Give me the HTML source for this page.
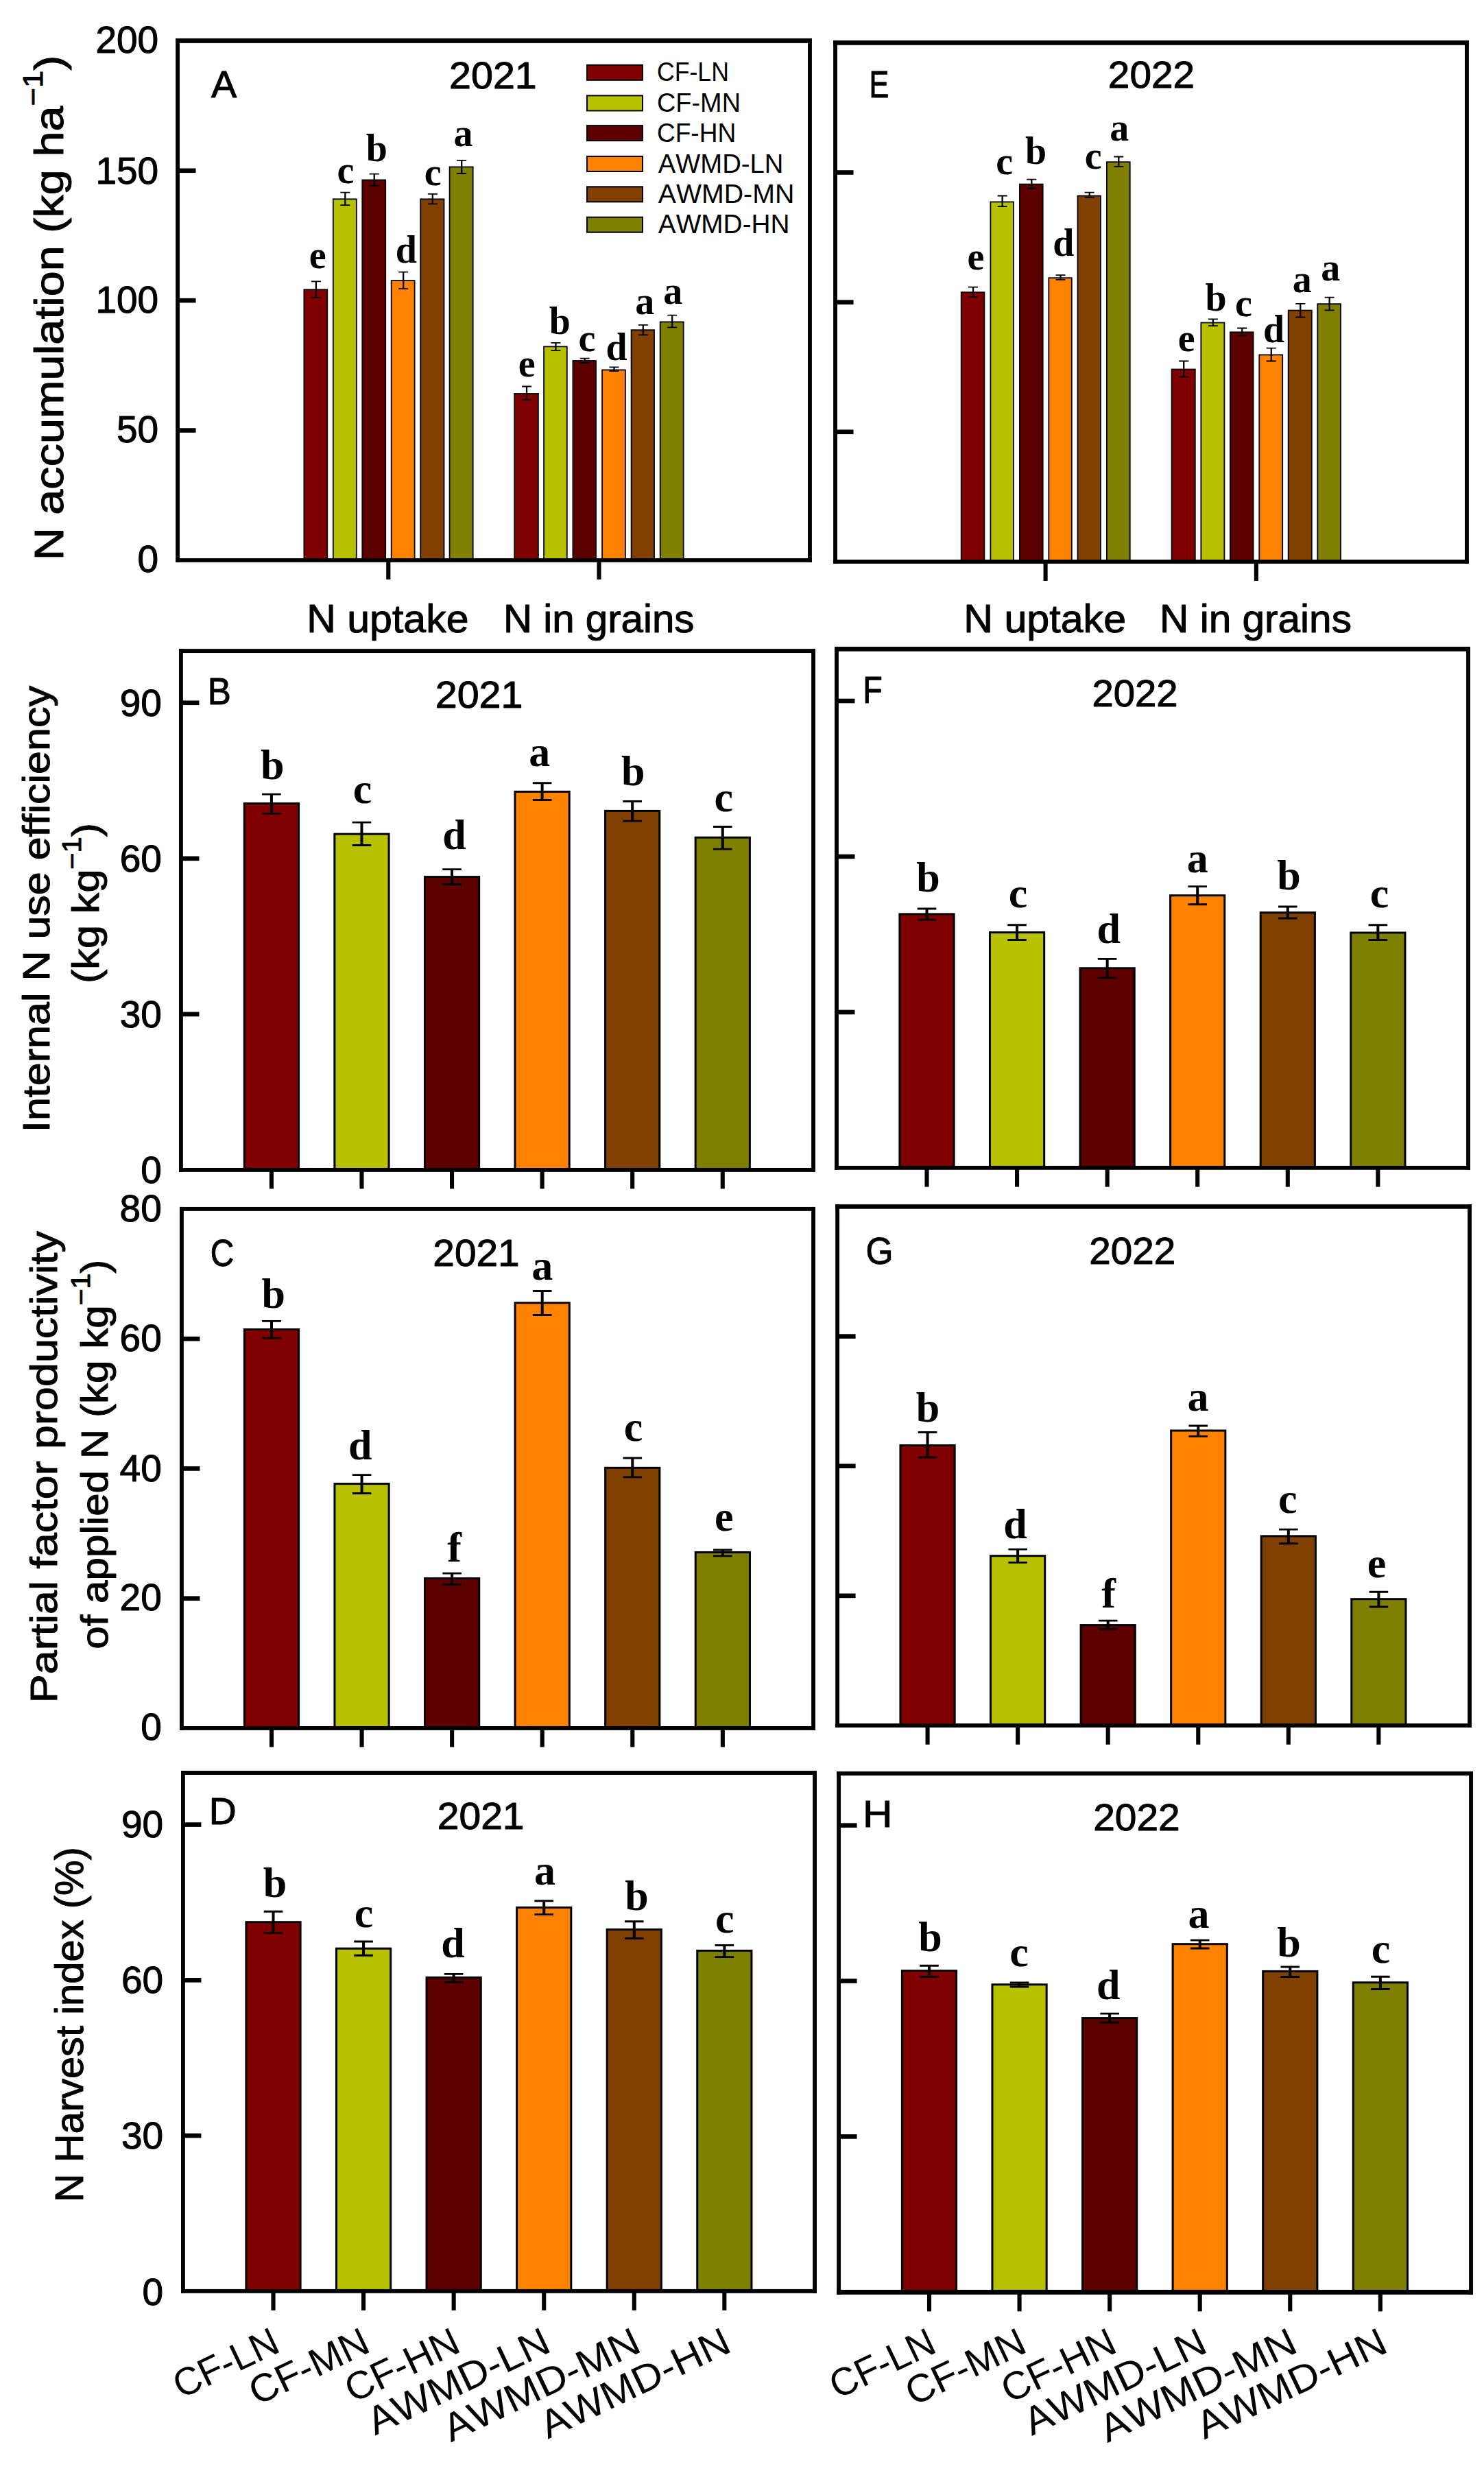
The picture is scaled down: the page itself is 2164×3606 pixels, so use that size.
<!DOCTYPE html>
<html lang="en"><head><meta charset="utf-8"><title>N accumulation and N use efficiency</title>
<style>
html,body{margin:0;padding:0;background:#fff}
body{width:2164px;height:3606px;overflow:hidden}
svg{display:block}
text{font-kerning:none;font-variant-ligatures:none;fill:#000}
.s,.t{font-family:"Liberation Sans",sans-serif}
.s{stroke:#000;stroke-width:1px;stroke-linejoin:round}
.b{font-family:"Liberation Serif",serif;font-weight:bold}
</style></head><body>
<svg width="2164" height="3606" viewBox="0 0 2164 3606" shape-rendering="geometricPrecision">
<rect width="2164" height="3606" fill="#fff"/>
<rect x="443.40" y="422.20" width="33.90" height="394.73" fill="#800000" stroke="#000" stroke-width="1.80"/>
<rect x="485.80" y="290.30" width="34.00" height="526.63" fill="#b7c100" stroke="#000" stroke-width="1.80"/>
<rect x="528.30" y="262.40" width="33.90" height="554.53" fill="#5c0000" stroke="#000" stroke-width="1.80"/>
<rect x="570.70" y="409.10" width="33.90" height="407.83" fill="#ff8200" stroke="#000" stroke-width="1.80"/>
<rect x="613.20" y="290.30" width="34.30" height="526.63" fill="#804000" stroke="#000" stroke-width="1.80"/>
<rect x="655.60" y="243.40" width="34.10" height="573.53" fill="#808000" stroke="#000" stroke-width="1.80"/>
<rect x="750.20" y="574.00" width="34.70" height="242.93" fill="#800000" stroke="#000" stroke-width="1.80"/>
<rect x="793.10" y="505.40" width="33.70" height="311.53" fill="#b7c100" stroke="#000" stroke-width="1.80"/>
<rect x="835.40" y="526.00" width="33.60" height="290.93" fill="#5c0000" stroke="#000" stroke-width="1.80"/>
<rect x="878.10" y="539.40" width="33.80" height="277.53" fill="#ff8200" stroke="#000" stroke-width="1.80"/>
<rect x="920.60" y="481.20" width="33.40" height="335.73" fill="#804000" stroke="#000" stroke-width="1.80"/>
<rect x="962.70" y="469.40" width="34.00" height="347.53" fill="#808000" stroke="#000" stroke-width="1.80"/>
<path d="M453.85 410.40H467.85M453.85 433.90H467.85" fill="none" stroke="#000" stroke-width="1.80"/>
<path d="M460.85 410.40V433.90" fill="none" stroke="#000" stroke-width="2.30"/>
<path d="M496.30 280.60H510.30M496.30 299.10H510.30" fill="none" stroke="#000" stroke-width="1.80"/>
<path d="M503.30 280.60V299.10" fill="none" stroke="#000" stroke-width="2.30"/>
<path d="M538.75 253.60H552.75M538.75 271.00H552.75" fill="none" stroke="#000" stroke-width="1.80"/>
<path d="M545.75 253.60V271.00" fill="none" stroke="#000" stroke-width="2.30"/>
<path d="M581.15 396.70H595.15M581.15 421.10H595.15" fill="none" stroke="#000" stroke-width="1.80"/>
<path d="M588.15 396.70V421.10" fill="none" stroke="#000" stroke-width="2.30"/>
<path d="M623.85 282.80H637.85M623.85 297.30H637.85" fill="none" stroke="#000" stroke-width="1.80"/>
<path d="M630.85 282.80V297.30" fill="none" stroke="#000" stroke-width="2.30"/>
<path d="M666.15 233.90H680.15M666.15 253.00H680.15" fill="none" stroke="#000" stroke-width="1.80"/>
<path d="M673.15 233.90V253.00" fill="none" stroke="#000" stroke-width="2.30"/>
<path d="M761.05 563.50H775.05M761.05 583.20H775.05" fill="none" stroke="#000" stroke-width="1.80"/>
<path d="M768.05 563.50V583.20" fill="none" stroke="#000" stroke-width="2.30"/>
<path d="M803.45 499.90H817.45M803.45 510.90H817.45" fill="none" stroke="#000" stroke-width="1.80"/>
<path d="M810.45 499.90V510.90" fill="none" stroke="#000" stroke-width="2.30"/>
<path d="M845.70 522.60H859.70M845.70 529.00H859.70" fill="none" stroke="#000" stroke-width="1.80"/>
<path d="M852.70 522.60V529.00" fill="none" stroke="#000" stroke-width="2.30"/>
<path d="M888.50 535.40H902.50M888.50 541.10H902.50" fill="none" stroke="#000" stroke-width="1.80"/>
<path d="M895.50 535.40V541.10" fill="none" stroke="#000" stroke-width="2.30"/>
<path d="M930.80 473.80H944.80M930.80 488.30H944.80" fill="none" stroke="#000" stroke-width="1.80"/>
<path d="M937.80 473.80V488.30" fill="none" stroke="#000" stroke-width="2.30"/>
<path d="M973.20 459.70H987.20M973.20 477.30H987.20" fill="none" stroke="#000" stroke-width="1.80"/>
<path d="M980.20 459.70V477.30" fill="none" stroke="#000" stroke-width="2.30"/>
<line x1="259.04" y1="627.55" x2="285.54" y2="627.55" stroke="#000" stroke-width="6.60"/>
<line x1="259.04" y1="438.16" x2="285.54" y2="438.16" stroke="#000" stroke-width="6.60"/>
<line x1="259.04" y1="248.78" x2="285.54" y2="248.78" stroke="#000" stroke-width="6.60"/>
<line x1="566.30" y1="816.93" x2="566.30" y2="844.93" stroke="#000" stroke-width="6.10"/>
<line x1="873.50" y1="816.93" x2="873.50" y2="844.93" stroke="#000" stroke-width="6.10"/>
<rect x="256.12" y="55.95" width="927.78" height="6.90" fill="#000"/>
<rect x="256.12" y="814.03" width="927.78" height="5.80" fill="#000"/>
<rect x="256.12" y="55.95" width="5.85" height="763.88" fill="#000"/>
<rect x="1178.05" y="55.95" width="5.85" height="763.88" fill="#000"/>
<text class="b" font-size="56.0" x="-12.66" y="0" transform="translate(463.40 390.50)">e</text>
<text class="b" font-size="56.0" x="-12.69" y="0" transform="translate(504.30 266.70)">c</text>
<text class="b" font-size="56.0" x="-14.79" y="0" transform="translate(548.60 234.70)">b</text>
<text class="b" font-size="56.0" x="-16.39" y="0" transform="translate(593.20 383.20)">d</text>
<text class="b" font-size="56.0" x="-12.69" y="0" transform="translate(631.50 269.70)">c</text>
<text class="b" font-size="56.0" x="-14.48" y="0" transform="translate(676.00 213.40)">a</text>
<text class="b" font-size="56.0" x="-12.66" y="0" transform="translate(768.30 549.30)">e</text>
<text class="b" font-size="56.0" x="-14.79" y="0" transform="translate(815.50 486.70)">b</text>
<text class="b" font-size="56.0" x="-12.69" y="0" transform="translate(856.10 512.20)">c</text>
<text class="b" font-size="56.0" x="-16.39" y="0" transform="translate(899.90 525.00)">d</text>
<text class="b" font-size="56.0" x="-14.48" y="0" transform="translate(940.80 458.10)">a</text>
<text class="b" font-size="56.0" x="-14.48" y="0" transform="translate(981.60 442.60)">a</text>
<text class="s" font-size="55.0" x="-89.62" y="0" transform="translate(229.00 77.23)">200</text>
<text class="s" font-size="55.0" x="-89.62" y="0" transform="translate(229.00 268.33)">150</text>
<text class="s" font-size="55.0" x="-89.62" y="0" transform="translate(229.00 456.43)">100</text>
<text class="s" font-size="55.0" x="-59.03" y="0" transform="translate(229.00 644.73)">50</text>
<text class="s" font-size="55.0" x="-28.44" y="0" transform="translate(229.00 834.43)">0</text>
<text class="s" font-size="56.0" x="-0.11" y="0" transform="translate(308.00 142.30) scale(0.9964 1)">A</text>
<text class="s" font-size="55.0" x="-2.77" y="0" transform="translate(658.00 128.60) scale(1.0436 1)">2021</text>
<text class="s" font-size="57.0" x="-4.68" y="0" transform="translate(452.00 921.50) scale(1.0365 1)">N uptake</text>
<text class="s" font-size="57.0" x="-4.68" y="0" transform="translate(738.70 921.50) scale(1.0225 1)">N in grains</text>
<rect x="856" y="94.80" width="81" height="22" fill="#800000" stroke="#000" stroke-width="2"/>
<text class="t" font-size="38.0" x="-1.93" y="0" transform="translate(959.80 117.80) scale(0.9377 1)">CF-LN</text>
<rect x="856" y="139.40" width="81" height="22" fill="#b7c100" stroke="#000" stroke-width="2"/>
<text class="t" font-size="38.0" x="-1.93" y="0" transform="translate(959.80 162.70) scale(0.9985 1)">CF-MN</text>
<rect x="856" y="183.10" width="81" height="22" fill="#5c0000" stroke="#000" stroke-width="2"/>
<text class="t" font-size="38.0" x="-1.93" y="0" transform="translate(959.80 207.10) scale(0.9756 1)">CF-HN</text>
<rect x="856" y="228.00" width="81" height="22" fill="#ff8200" stroke="#000" stroke-width="2"/>
<text class="t" font-size="38.0" x="-0.07" y="0" transform="translate(959.80 251.50) scale(1.0064 1)">AWMD-LN</text>
<rect x="856" y="272.30" width="81" height="22" fill="#804000" stroke="#000" stroke-width="2"/>
<text class="t" font-size="38.0" x="-0.07" y="0" transform="translate(959.80 296.10) scale(1.0340 1)">AWMD-MN</text>
<rect x="856" y="316.70" width="81" height="22" fill="#808000" stroke="#000" stroke-width="2"/>
<text class="t" font-size="38.0" x="-0.07" y="0" transform="translate(959.80 340.00) scale(1.0218 1)">AWMD-HN</text>
<text class="s" font-size="60.0" x="-4.92" y="0" transform="translate(92.40 811.90) rotate(-90.00) scale(1.1107 1)"><tspan>N accumulation (kg ha</tspan><tspan font-size="40.8" dy="-30.0">−1</tspan><tspan dy="30.0">)</tspan></text>
<rect x="1401.70" y="426.20" width="33.70" height="392.75" fill="#800000" stroke="#000" stroke-width="1.80"/>
<rect x="1444.40" y="294.40" width="33.50" height="524.55" fill="#b7c100" stroke="#000" stroke-width="1.80"/>
<rect x="1486.90" y="268.60" width="33.80" height="550.35" fill="#5c0000" stroke="#000" stroke-width="1.80"/>
<rect x="1529.30" y="405.20" width="33.50" height="413.75" fill="#ff8200" stroke="#000" stroke-width="1.80"/>
<rect x="1571.50" y="285.50" width="33.40" height="533.45" fill="#804000" stroke="#000" stroke-width="1.80"/>
<rect x="1613.90" y="236.20" width="33.80" height="582.75" fill="#808000" stroke="#000" stroke-width="1.80"/>
<rect x="1708.60" y="538.50" width="34.20" height="280.45" fill="#800000" stroke="#000" stroke-width="1.80"/>
<rect x="1751.40" y="470.50" width="34.00" height="348.45" fill="#b7c100" stroke="#000" stroke-width="1.80"/>
<rect x="1793.90" y="484.30" width="33.70" height="334.65" fill="#5c0000" stroke="#000" stroke-width="1.80"/>
<rect x="1836.30" y="517.40" width="33.90" height="301.55" fill="#ff8200" stroke="#000" stroke-width="1.80"/>
<rect x="1878.70" y="452.60" width="34.10" height="366.35" fill="#804000" stroke="#000" stroke-width="1.80"/>
<rect x="1921.30" y="443.20" width="33.70" height="375.75" fill="#808000" stroke="#000" stroke-width="1.80"/>
<path d="M1412.05 418.60H1426.05M1412.05 432.90H1426.05" fill="none" stroke="#000" stroke-width="1.80"/>
<path d="M1419.05 418.60V432.90" fill="none" stroke="#000" stroke-width="2.30"/>
<path d="M1454.65 285.50H1468.65M1454.65 301.10H1468.65" fill="none" stroke="#000" stroke-width="1.80"/>
<path d="M1461.65 285.50V301.10" fill="none" stroke="#000" stroke-width="2.30"/>
<path d="M1497.30 261.70H1511.30M1497.30 274.80H1511.30" fill="none" stroke="#000" stroke-width="1.80"/>
<path d="M1504.30 261.70V274.80" fill="none" stroke="#000" stroke-width="2.30"/>
<path d="M1539.55 401.20H1553.55M1539.55 407.90H1553.55" fill="none" stroke="#000" stroke-width="1.80"/>
<path d="M1546.55 401.20V407.90" fill="none" stroke="#000" stroke-width="2.30"/>
<path d="M1581.70 280.70H1595.70M1581.70 288.10H1595.70" fill="none" stroke="#000" stroke-width="1.80"/>
<path d="M1588.70 280.70V288.10" fill="none" stroke="#000" stroke-width="2.30"/>
<path d="M1624.30 228.50H1638.30M1624.30 242.90H1638.30" fill="none" stroke="#000" stroke-width="1.80"/>
<path d="M1631.30 228.50V242.90" fill="none" stroke="#000" stroke-width="2.30"/>
<path d="M1719.20 526.50H1733.20M1719.20 549.50H1733.20" fill="none" stroke="#000" stroke-width="1.80"/>
<path d="M1726.20 526.50V549.50" fill="none" stroke="#000" stroke-width="2.30"/>
<path d="M1761.90 465.40H1775.90M1761.90 475.20H1775.90" fill="none" stroke="#000" stroke-width="1.80"/>
<path d="M1768.90 465.40V475.20" fill="none" stroke="#000" stroke-width="2.30"/>
<path d="M1804.25 478.50H1818.25M1804.25 489.40H1818.25" fill="none" stroke="#000" stroke-width="1.80"/>
<path d="M1811.25 478.50V489.40" fill="none" stroke="#000" stroke-width="2.30"/>
<path d="M1846.75 507.60H1860.75M1846.75 526.50H1860.75" fill="none" stroke="#000" stroke-width="1.80"/>
<path d="M1853.75 507.60V526.50" fill="none" stroke="#000" stroke-width="2.30"/>
<path d="M1889.25 442.80H1903.25M1889.25 462.50H1903.25" fill="none" stroke="#000" stroke-width="1.80"/>
<path d="M1896.25 442.80V462.50" fill="none" stroke="#000" stroke-width="2.30"/>
<path d="M1931.65 433.70H1945.65M1931.65 452.30H1945.65" fill="none" stroke="#000" stroke-width="1.80"/>
<path d="M1938.65 433.70V452.30" fill="none" stroke="#000" stroke-width="2.30"/>
<line x1="1218.04" y1="629.80" x2="1244.54" y2="629.80" stroke="#000" stroke-width="6.60"/>
<line x1="1218.04" y1="440.65" x2="1244.54" y2="440.65" stroke="#000" stroke-width="6.60"/>
<line x1="1218.04" y1="251.49" x2="1244.54" y2="251.49" stroke="#000" stroke-width="6.60"/>
<line x1="1524.60" y1="818.95" x2="1524.60" y2="846.95" stroke="#000" stroke-width="6.10"/>
<line x1="1831.90" y1="818.95" x2="1831.90" y2="846.95" stroke="#000" stroke-width="6.10"/>
<rect x="1215.12" y="58.94" width="926.76" height="6.80" fill="#000"/>
<rect x="1215.12" y="816.03" width="926.76" height="5.85" fill="#000"/>
<rect x="1215.12" y="58.94" width="5.85" height="762.93" fill="#000"/>
<rect x="2136.02" y="58.94" width="5.85" height="762.93" fill="#000"/>
<text class="b" font-size="56.0" x="-12.66" y="0" transform="translate(1423.20 393.00)">e</text>
<text class="b" font-size="56.0" x="-12.69" y="0" transform="translate(1465.00 253.90)">c</text>
<text class="b" font-size="56.0" x="-14.79" y="0" transform="translate(1509.70 238.50)">b</text>
<text class="b" font-size="56.0" x="-16.39" y="0" transform="translate(1551.60 372.80)">d</text>
<text class="b" font-size="56.0" x="-12.69" y="0" transform="translate(1594.40 245.80)">c</text>
<text class="b" font-size="56.0" x="-14.48" y="0" transform="translate(1632.80 205.40)">a</text>
<text class="b" font-size="56.0" x="-12.66" y="0" transform="translate(1730.30 512.10)">e</text>
<text class="b" font-size="56.0" x="-14.79" y="0" transform="translate(1772.30 452.80)">b</text>
<text class="b" font-size="56.0" x="-12.69" y="0" transform="translate(1813.60 460.80)">c</text>
<text class="b" font-size="56.0" x="-16.39" y="0" transform="translate(1858.30 499.00)">d</text>
<text class="b" font-size="56.0" x="-14.48" y="0" transform="translate(1899.10 425.50)">a</text>
<text class="b" font-size="56.0" x="-14.48" y="0" transform="translate(1940.60 409.20)">a</text>
<text class="s" font-size="56.0" x="-4.59" y="0" transform="translate(1271.00 142.30) scale(0.7710 1)">E</text>
<text class="s" font-size="55.0" x="-2.77" y="0" transform="translate(1618.70 127.80) scale(1.0315 1)">2022</text>
<text class="s" font-size="57.0" x="-4.68" y="0" transform="translate(1410.10 922.00) scale(1.0383 1)">N uptake</text>
<text class="s" font-size="57.0" x="-4.68" y="0" transform="translate(1695.90 922.00) scale(1.0274 1)">N in grains</text>
<rect x="356.30" y="1171.60" width="79.20" height="534.30" fill="#800000" stroke="#000" stroke-width="3.00"/>
<rect x="487.87" y="1216.10" width="79.20" height="489.80" fill="#b7c100" stroke="#000" stroke-width="3.00"/>
<rect x="619.44" y="1278.60" width="79.20" height="427.30" fill="#5c0000" stroke="#000" stroke-width="3.00"/>
<rect x="751.01" y="1154.40" width="79.20" height="551.50" fill="#ff8200" stroke="#000" stroke-width="3.00"/>
<rect x="882.58" y="1182.40" width="79.20" height="523.50" fill="#804000" stroke="#000" stroke-width="3.00"/>
<rect x="1014.15" y="1221.20" width="79.20" height="484.70" fill="#808000" stroke="#000" stroke-width="3.00"/>
<path d="M382.10 1158.15H409.70M382.10 1186.35H409.70" fill="none" stroke="#000" stroke-width="2.90"/>
<path d="M395.90 1158.15V1186.35" fill="none" stroke="#000" stroke-width="4.00"/>
<path d="M513.67 1199.15H541.27M513.67 1232.55H541.27" fill="none" stroke="#000" stroke-width="2.90"/>
<path d="M527.47 1199.15V1232.55" fill="none" stroke="#000" stroke-width="4.00"/>
<path d="M645.24 1267.65H672.84M645.24 1289.45H672.84" fill="none" stroke="#000" stroke-width="2.90"/>
<path d="M659.04 1267.65V1289.45" fill="none" stroke="#000" stroke-width="4.00"/>
<path d="M776.81 1141.75H804.41M776.81 1166.55H804.41" fill="none" stroke="#000" stroke-width="2.90"/>
<path d="M790.61 1141.75V1166.55" fill="none" stroke="#000" stroke-width="4.00"/>
<path d="M908.38 1168.45H935.98M908.38 1197.15H935.98" fill="none" stroke="#000" stroke-width="2.90"/>
<path d="M922.18 1168.45V1197.15" fill="none" stroke="#000" stroke-width="4.00"/>
<path d="M1039.95 1205.55H1067.55M1039.95 1238.15H1067.55" fill="none" stroke="#000" stroke-width="2.90"/>
<path d="M1053.75 1205.55V1238.15" fill="none" stroke="#000" stroke-width="4.00"/>
<line x1="263.93" y1="1478.86" x2="290.43" y2="1478.86" stroke="#000" stroke-width="6.60"/>
<line x1="263.93" y1="1251.82" x2="290.43" y2="1251.82" stroke="#000" stroke-width="6.60"/>
<line x1="263.93" y1="1024.78" x2="290.43" y2="1024.78" stroke="#000" stroke-width="6.60"/>
<line x1="395.90" y1="1705.90" x2="395.90" y2="1733.40" stroke="#000" stroke-width="6.10"/>
<line x1="527.47" y1="1705.90" x2="527.47" y2="1733.40" stroke="#000" stroke-width="6.10"/>
<line x1="659.04" y1="1705.90" x2="659.04" y2="1733.40" stroke="#000" stroke-width="6.10"/>
<line x1="790.61" y1="1705.90" x2="790.61" y2="1733.40" stroke="#000" stroke-width="6.10"/>
<line x1="922.18" y1="1705.90" x2="922.18" y2="1733.40" stroke="#000" stroke-width="6.10"/>
<line x1="1053.75" y1="1705.90" x2="1053.75" y2="1733.40" stroke="#000" stroke-width="6.10"/>
<rect x="261.00" y="946.15" width="927.98" height="5.90" fill="#000"/>
<rect x="261.00" y="1702.98" width="927.98" height="5.85" fill="#000"/>
<rect x="261.00" y="946.15" width="5.85" height="762.68" fill="#000"/>
<rect x="1183.13" y="946.15" width="5.85" height="762.68" fill="#000"/>
<text class="b" font-size="62.0" x="-16.38" y="0" transform="translate(396.30 1135.60)">b</text>
<text class="b" font-size="62.0" x="-14.05" y="0" transform="translate(528.90 1171.40)">c</text>
<text class="b" font-size="62.0" x="-18.15" y="0" transform="translate(663.50 1238.30)">d</text>
<text class="b" font-size="62.0" x="-16.03" y="0" transform="translate(787.30 1117.10)">a</text>
<text class="b" font-size="62.0" x="-16.38" y="0" transform="translate(922.30 1145.10)">b</text>
<text class="b" font-size="62.0" x="-14.05" y="0" transform="translate(1055.50 1183.10)">c</text>
<text class="s" font-size="55.0" x="-59.03" y="0" transform="translate(233.70 1043.53)">90</text>
<text class="s" font-size="55.0" x="-59.03" y="0" transform="translate(233.70 1271.23)">60</text>
<text class="s" font-size="55.0" x="-59.03" y="0" transform="translate(233.70 1498.33)">30</text>
<text class="s" font-size="55.0" x="-28.44" y="0" transform="translate(233.70 1725.13)">0</text>
<text class="s" font-size="56.0" x="-4.59" y="0" transform="translate(307.00 1026.50) scale(0.9126 1)">B</text>
<text class="s" font-size="55.0" x="-2.77" y="0" transform="translate(637.60 1032.10) scale(1.0445 1)">2021</text>
<text class="s" font-size="56.0" x="-5.17" y="0" transform="translate(72.20 1645.40) rotate(-90.00) scale(1.0896 1)">Internal N use efficiency</text>
<text class="s" font-size="56.0" x="-3.47" y="0" transform="translate(144.40 1430.20) rotate(-90.00) scale(1.0910 1)"><tspan>(kg kg</tspan><tspan font-size="38.1" dy="-26.3">−1</tspan><tspan dy="26.3">)</tspan></text>
<rect x="1311.90" y="1332.90" width="79.20" height="369.95" fill="#800000" stroke="#000" stroke-width="3.00"/>
<rect x="1443.47" y="1359.60" width="79.20" height="343.25" fill="#b7c100" stroke="#000" stroke-width="3.00"/>
<rect x="1575.04" y="1411.80" width="79.20" height="291.05" fill="#5c0000" stroke="#000" stroke-width="3.00"/>
<rect x="1706.61" y="1305.70" width="79.20" height="397.15" fill="#ff8200" stroke="#000" stroke-width="3.00"/>
<rect x="1838.18" y="1330.70" width="79.20" height="372.15" fill="#804000" stroke="#000" stroke-width="3.00"/>
<rect x="1969.75" y="1360.00" width="79.20" height="342.85" fill="#808000" stroke="#000" stroke-width="3.00"/>
<path d="M1337.70 1325.05H1365.30M1337.70 1341.15H1365.30" fill="none" stroke="#000" stroke-width="2.90"/>
<path d="M1351.50 1325.05V1341.15" fill="none" stroke="#000" stroke-width="4.00"/>
<path d="M1469.27 1348.75H1496.87M1469.27 1370.55H1496.87" fill="none" stroke="#000" stroke-width="2.90"/>
<path d="M1483.07 1348.75V1370.55" fill="none" stroke="#000" stroke-width="4.00"/>
<path d="M1600.84 1398.35H1628.44M1600.84 1425.85H1628.44" fill="none" stroke="#000" stroke-width="2.90"/>
<path d="M1614.64 1398.35V1425.85" fill="none" stroke="#000" stroke-width="4.00"/>
<path d="M1732.41 1292.65H1760.01M1732.41 1318.75H1760.01" fill="none" stroke="#000" stroke-width="2.90"/>
<path d="M1746.21 1292.65V1318.75" fill="none" stroke="#000" stroke-width="4.00"/>
<path d="M1863.98 1322.05H1891.58M1863.98 1339.05H1891.58" fill="none" stroke="#000" stroke-width="2.90"/>
<path d="M1877.78 1322.05V1339.05" fill="none" stroke="#000" stroke-width="4.00"/>
<path d="M1995.55 1348.75H2023.15M1995.55 1370.55H2023.15" fill="none" stroke="#000" stroke-width="2.90"/>
<path d="M2009.35 1348.75V1370.55" fill="none" stroke="#000" stroke-width="4.00"/>
<line x1="1219.98" y1="1475.91" x2="1246.48" y2="1475.91" stroke="#000" stroke-width="6.60"/>
<line x1="1219.98" y1="1248.98" x2="1246.48" y2="1248.98" stroke="#000" stroke-width="6.60"/>
<line x1="1219.98" y1="1022.04" x2="1246.48" y2="1022.04" stroke="#000" stroke-width="6.60"/>
<line x1="1351.50" y1="1702.85" x2="1351.50" y2="1730.65" stroke="#000" stroke-width="6.10"/>
<line x1="1483.07" y1="1702.85" x2="1483.07" y2="1730.65" stroke="#000" stroke-width="6.10"/>
<line x1="1614.64" y1="1702.85" x2="1614.64" y2="1730.65" stroke="#000" stroke-width="6.10"/>
<line x1="1746.21" y1="1702.85" x2="1746.21" y2="1730.65" stroke="#000" stroke-width="6.10"/>
<line x1="1877.78" y1="1702.85" x2="1877.78" y2="1730.65" stroke="#000" stroke-width="6.10"/>
<line x1="2009.35" y1="1702.85" x2="2009.35" y2="1730.65" stroke="#000" stroke-width="6.10"/>
<rect x="1217.06" y="943.05" width="926.90" height="6.70" fill="#000"/>
<rect x="1217.06" y="1699.92" width="926.90" height="5.85" fill="#000"/>
<rect x="1217.06" y="943.05" width="5.85" height="762.72" fill="#000"/>
<rect x="2138.11" y="943.05" width="5.85" height="762.72" fill="#000"/>
<text class="b" font-size="62.0" x="-16.38" y="0" transform="translate(1352.50 1299.50)">b</text>
<text class="b" font-size="62.0" x="-14.05" y="0" transform="translate(1484.70 1323.20)">c</text>
<text class="b" font-size="62.0" x="-18.15" y="0" transform="translate(1617.70 1375.00)">d</text>
<text class="b" font-size="62.0" x="-16.03" y="0" transform="translate(1746.70 1271.50)">a</text>
<text class="b" font-size="62.0" x="-16.38" y="0" transform="translate(1878.70 1297.30)">b</text>
<text class="b" font-size="62.0" x="-14.05" y="0" transform="translate(2011.80 1323.20)">c</text>
<text class="s" font-size="56.0" x="-4.59" y="0" transform="translate(1262.00 1024.80) scale(0.8330 1)">F</text>
<text class="s" font-size="55.0" x="-2.77" y="0" transform="translate(1595.30 1030.00) scale(1.0229 1)">2022</text>
<rect x="356.40" y="1938.50" width="79.20" height="581.45" fill="#800000" stroke="#000" stroke-width="3.00"/>
<rect x="487.97" y="2163.60" width="79.20" height="356.35" fill="#b7c100" stroke="#000" stroke-width="3.00"/>
<rect x="619.54" y="2301.50" width="79.20" height="218.45" fill="#5c0000" stroke="#000" stroke-width="3.00"/>
<rect x="751.11" y="1899.70" width="79.20" height="620.25" fill="#ff8200" stroke="#000" stroke-width="3.00"/>
<rect x="882.68" y="2140.30" width="79.20" height="379.65" fill="#804000" stroke="#000" stroke-width="3.00"/>
<rect x="1014.25" y="2263.50" width="79.20" height="256.45" fill="#808000" stroke="#000" stroke-width="3.00"/>
<path d="M382.20 1926.35H409.80M382.20 1951.15H409.80" fill="none" stroke="#000" stroke-width="2.90"/>
<path d="M396.00 1926.35V1951.15" fill="none" stroke="#000" stroke-width="4.00"/>
<path d="M513.77 2150.65H541.37M513.77 2177.55H541.37" fill="none" stroke="#000" stroke-width="2.90"/>
<path d="M527.57 2150.65V2177.55" fill="none" stroke="#000" stroke-width="4.00"/>
<path d="M645.34 2294.15H672.94M645.34 2310.65H672.94" fill="none" stroke="#000" stroke-width="2.90"/>
<path d="M659.14 2294.15V2310.65" fill="none" stroke="#000" stroke-width="4.00"/>
<path d="M776.91 1882.45H804.51M776.91 1917.55H804.51" fill="none" stroke="#000" stroke-width="2.90"/>
<path d="M790.71 1882.45V1917.55" fill="none" stroke="#000" stroke-width="4.00"/>
<path d="M908.48 2126.05H936.08M908.48 2153.85H936.08" fill="none" stroke="#000" stroke-width="2.90"/>
<path d="M922.28 2126.05V2153.85" fill="none" stroke="#000" stroke-width="4.00"/>
<path d="M1040.05 2260.05H1067.65M1040.05 2268.85H1067.65" fill="none" stroke="#000" stroke-width="2.90"/>
<path d="M1053.85 2260.05V2268.85" fill="none" stroke="#000" stroke-width="4.00"/>
<line x1="264.95" y1="2330.69" x2="291.45" y2="2330.69" stroke="#000" stroke-width="6.60"/>
<line x1="264.95" y1="2141.43" x2="291.45" y2="2141.43" stroke="#000" stroke-width="6.60"/>
<line x1="264.95" y1="1952.16" x2="291.45" y2="1952.16" stroke="#000" stroke-width="6.60"/>
<line x1="396.00" y1="2519.95" x2="396.00" y2="2547.45" stroke="#000" stroke-width="6.10"/>
<line x1="527.57" y1="2519.95" x2="527.57" y2="2547.45" stroke="#000" stroke-width="6.10"/>
<line x1="659.14" y1="2519.95" x2="659.14" y2="2547.45" stroke="#000" stroke-width="6.10"/>
<line x1="790.71" y1="2519.95" x2="790.71" y2="2547.45" stroke="#000" stroke-width="6.10"/>
<line x1="922.28" y1="2519.95" x2="922.28" y2="2547.45" stroke="#000" stroke-width="6.10"/>
<line x1="1053.85" y1="2519.95" x2="1053.85" y2="2547.45" stroke="#000" stroke-width="6.10"/>
<rect x="262.02" y="1759.95" width="926.96" height="5.90" fill="#000"/>
<rect x="262.02" y="2517.02" width="926.96" height="5.85" fill="#000"/>
<rect x="262.02" y="1759.95" width="5.85" height="762.92" fill="#000"/>
<rect x="1183.13" y="1759.95" width="5.85" height="762.92" fill="#000"/>
<text class="b" font-size="62.0" x="-16.38" y="0" transform="translate(397.80 1907.30)">b</text>
<text class="b" font-size="62.0" x="-18.15" y="0" transform="translate(526.10 2128.10)">d</text>
<text class="b" font-size="62.0" x="-10.85" y="0" transform="translate(663.10 2276.80)">f</text>
<text class="b" font-size="62.0" x="-16.03" y="0" transform="translate(791.30 1865.80)">a</text>
<text class="b" font-size="62.0" x="-14.05" y="0" transform="translate(923.80 2101.40)">c</text>
<text class="b" font-size="62.0" x="-14.02" y="0" transform="translate(1056.00 2232.00)">e</text>
<text class="s" font-size="55.0" x="-59.03" y="0" transform="translate(233.60 1781.43)">80</text>
<text class="s" font-size="55.0" x="-59.03" y="0" transform="translate(233.60 1970.23)">60</text>
<text class="s" font-size="55.0" x="-59.03" y="0" transform="translate(233.60 2159.93)">40</text>
<text class="s" font-size="55.0" x="-59.03" y="0" transform="translate(233.60 2347.93)">20</text>
<text class="s" font-size="55.0" x="-28.44" y="0" transform="translate(233.60 2536.93)">0</text>
<text class="s" font-size="56.0" x="-2.84" y="0" transform="translate(309.20 1845.80) scale(0.8515 1)">C</text>
<text class="s" font-size="55.0" x="-2.77" y="0" transform="translate(634.20 1846.40) scale(1.0325 1)">2021</text>
<text class="s" font-size="56.0" x="-4.59" y="0" transform="translate(82.50 2478.00) rotate(-90.00) scale(1.1226 1)">Partial factor productivity</text>
<text class="s" font-size="56.0" x="-2.35" y="0" transform="translate(156.80 2402.30) rotate(-90.00) scale(1.0742 1)"><tspan>of applied N (kg kg</tspan><tspan font-size="38.1" dy="-26.3">−1</tspan><tspan dy="26.3">)</tspan></text>
<rect x="1312.95" y="2107.60" width="79.20" height="408.40" fill="#800000" stroke="#000" stroke-width="3.00"/>
<rect x="1444.52" y="2268.70" width="79.20" height="247.30" fill="#b7c100" stroke="#000" stroke-width="3.00"/>
<rect x="1576.09" y="2369.60" width="79.20" height="146.40" fill="#5c0000" stroke="#000" stroke-width="3.00"/>
<rect x="1707.66" y="2086.00" width="79.20" height="430.00" fill="#ff8200" stroke="#000" stroke-width="3.00"/>
<rect x="1839.23" y="2239.90" width="79.20" height="276.10" fill="#804000" stroke="#000" stroke-width="3.00"/>
<rect x="1970.80" y="2331.70" width="79.20" height="184.30" fill="#808000" stroke="#000" stroke-width="3.00"/>
<path d="M1338.75 2088.55H1366.35M1338.75 2124.95H1366.35" fill="none" stroke="#000" stroke-width="2.90"/>
<path d="M1352.55 2088.55V2124.95" fill="none" stroke="#000" stroke-width="4.00"/>
<path d="M1470.32 2259.15H1497.92M1470.32 2278.35H1497.92" fill="none" stroke="#000" stroke-width="2.90"/>
<path d="M1484.12 2259.15V2278.35" fill="none" stroke="#000" stroke-width="4.00"/>
<path d="M1601.89 2363.15H1629.49M1601.89 2375.35H1629.49" fill="none" stroke="#000" stroke-width="2.90"/>
<path d="M1615.69 2363.15V2375.35" fill="none" stroke="#000" stroke-width="4.00"/>
<path d="M1733.46 2079.05H1761.06M1733.46 2094.35H1761.06" fill="none" stroke="#000" stroke-width="2.90"/>
<path d="M1747.26 2079.05V2094.35" fill="none" stroke="#000" stroke-width="4.00"/>
<path d="M1865.03 2230.15H1892.63M1865.03 2250.75H1892.63" fill="none" stroke="#000" stroke-width="2.90"/>
<path d="M1878.83 2230.15V2250.75" fill="none" stroke="#000" stroke-width="4.00"/>
<path d="M1996.60 2321.25H2024.20M1996.60 2343.05H2024.20" fill="none" stroke="#000" stroke-width="2.90"/>
<path d="M2010.40 2321.25V2343.05" fill="none" stroke="#000" stroke-width="4.00"/>
<line x1="1221.10" y1="2326.86" x2="1247.60" y2="2326.86" stroke="#000" stroke-width="6.60"/>
<line x1="1221.10" y1="2137.72" x2="1247.60" y2="2137.72" stroke="#000" stroke-width="6.60"/>
<line x1="1221.10" y1="1948.59" x2="1247.60" y2="1948.59" stroke="#000" stroke-width="6.60"/>
<line x1="1352.55" y1="2516.00" x2="1352.55" y2="2543.80" stroke="#000" stroke-width="6.10"/>
<line x1="1484.12" y1="2516.00" x2="1484.12" y2="2543.80" stroke="#000" stroke-width="6.10"/>
<line x1="1615.69" y1="2516.00" x2="1615.69" y2="2543.80" stroke="#000" stroke-width="6.10"/>
<line x1="1747.26" y1="2516.00" x2="1747.26" y2="2543.80" stroke="#000" stroke-width="6.10"/>
<line x1="1878.83" y1="2516.00" x2="1878.83" y2="2543.80" stroke="#000" stroke-width="6.10"/>
<line x1="2010.40" y1="2516.00" x2="2010.40" y2="2543.80" stroke="#000" stroke-width="6.10"/>
<rect x="1218.17" y="1756.20" width="927.79" height="6.50" fill="#000"/>
<rect x="1218.17" y="2513.07" width="927.79" height="5.85" fill="#000"/>
<rect x="1218.17" y="1756.20" width="5.85" height="762.73" fill="#000"/>
<rect x="2140.11" y="1756.20" width="5.85" height="762.73" fill="#000"/>
<text class="b" font-size="62.0" x="-16.38" y="0" transform="translate(1352.10 2072.90)">b</text>
<text class="b" font-size="62.0" x="-18.15" y="0" transform="translate(1481.40 2243.20)">d</text>
<text class="b" font-size="62.0" x="-10.85" y="0" transform="translate(1617.00 2343.60)">f</text>
<text class="b" font-size="62.0" x="-16.03" y="0" transform="translate(1747.50 2057.00)">a</text>
<text class="b" font-size="62.0" x="-14.05" y="0" transform="translate(1878.10 2205.80)">c</text>
<text class="b" font-size="62.0" x="-14.02" y="0" transform="translate(2007.70 2300.00)">e</text>
<text class="s" font-size="56.0" x="-2.82" y="0" transform="translate(1265.00 1842.70) scale(0.9191 1)">G</text>
<text class="s" font-size="55.0" x="-2.77" y="0" transform="translate(1591.00 1843.30) scale(1.0298 1)">2022</text>
<rect x="358.90" y="2802.70" width="79.20" height="538.16" fill="#800000" stroke="#000" stroke-width="3.00"/>
<rect x="490.47" y="2841.20" width="79.20" height="499.66" fill="#b7c100" stroke="#000" stroke-width="3.00"/>
<rect x="622.04" y="2883.55" width="79.20" height="457.31" fill="#5c0000" stroke="#000" stroke-width="3.00"/>
<rect x="753.61" y="2781.40" width="79.20" height="559.46" fill="#ff8200" stroke="#000" stroke-width="3.00"/>
<rect x="885.18" y="2813.50" width="79.20" height="527.36" fill="#804000" stroke="#000" stroke-width="3.00"/>
<rect x="1016.75" y="2844.40" width="79.20" height="496.46" fill="#808000" stroke="#000" stroke-width="3.00"/>
<path d="M384.70 2787.25H412.30M384.70 2818.60H412.30" fill="none" stroke="#000" stroke-width="2.90"/>
<path d="M398.50 2787.25V2818.60" fill="none" stroke="#000" stroke-width="4.00"/>
<path d="M516.27 2830.95H543.87M516.27 2851.25H543.87" fill="none" stroke="#000" stroke-width="2.90"/>
<path d="M530.07 2830.95V2851.25" fill="none" stroke="#000" stroke-width="4.00"/>
<path d="M647.84 2878.35H675.44M647.84 2890.30H675.44" fill="none" stroke="#000" stroke-width="2.90"/>
<path d="M661.64 2878.35V2890.30" fill="none" stroke="#000" stroke-width="4.00"/>
<path d="M779.41 2771.75H807.01M779.41 2791.65H807.01" fill="none" stroke="#000" stroke-width="2.90"/>
<path d="M793.21 2771.75V2791.65" fill="none" stroke="#000" stroke-width="4.00"/>
<path d="M910.98 2801.75H938.58M910.98 2826.55H938.58" fill="none" stroke="#000" stroke-width="2.90"/>
<path d="M924.78 2801.75V2826.55" fill="none" stroke="#000" stroke-width="4.00"/>
<path d="M1042.55 2836.45H1070.15M1042.55 2853.65H1070.15" fill="none" stroke="#000" stroke-width="2.90"/>
<path d="M1056.35 2836.45V2853.65" fill="none" stroke="#000" stroke-width="4.00"/>
<line x1="266.93" y1="3114.10" x2="293.43" y2="3114.10" stroke="#000" stroke-width="6.60"/>
<line x1="266.93" y1="2887.34" x2="293.43" y2="2887.34" stroke="#000" stroke-width="6.60"/>
<line x1="266.93" y1="2660.59" x2="293.43" y2="2660.59" stroke="#000" stroke-width="6.60"/>
<line x1="398.50" y1="3340.86" x2="398.50" y2="3368.86" stroke="#000" stroke-width="6.10"/>
<line x1="530.07" y1="3340.86" x2="530.07" y2="3368.86" stroke="#000" stroke-width="6.10"/>
<line x1="661.64" y1="3340.86" x2="661.64" y2="3368.86" stroke="#000" stroke-width="6.10"/>
<line x1="793.21" y1="3340.86" x2="793.21" y2="3368.86" stroke="#000" stroke-width="6.10"/>
<line x1="924.78" y1="3340.86" x2="924.78" y2="3368.86" stroke="#000" stroke-width="6.10"/>
<line x1="1056.35" y1="3340.86" x2="1056.35" y2="3368.86" stroke="#000" stroke-width="6.10"/>
<rect x="264.00" y="2582.05" width="927.00" height="5.90" fill="#000"/>
<rect x="264.00" y="3337.93" width="927.00" height="5.85" fill="#000"/>
<rect x="264.00" y="2582.05" width="5.85" height="761.74" fill="#000"/>
<rect x="1185.15" y="2582.05" width="5.85" height="761.74" fill="#000"/>
<text class="b" font-size="62.0" x="-16.38" y="0" transform="translate(400.00 2765.70)">b</text>
<text class="b" font-size="62.0" x="-14.05" y="0" transform="translate(530.70 2810.10)">c</text>
<text class="b" font-size="62.0" x="-18.15" y="0" transform="translate(661.30 2854.10)">d</text>
<text class="b" font-size="62.0" x="-16.03" y="0" transform="translate(795.00 2747.60)">a</text>
<text class="b" font-size="62.0" x="-16.38" y="0" transform="translate(927.60 2785.10)">b</text>
<text class="b" font-size="62.0" x="-14.05" y="0" transform="translate(1057.00 2817.50)">c</text>
<text class="s" font-size="55.0" x="-59.03" y="0" transform="translate(236.00 2678.73)">90</text>
<text class="s" font-size="55.0" x="-59.03" y="0" transform="translate(236.00 2906.23)">60</text>
<text class="s" font-size="55.0" x="-59.03" y="0" transform="translate(236.00 3133.43)">30</text>
<text class="s" font-size="55.0" x="-28.44" y="0" transform="translate(236.00 3360.83)">0</text>
<text class="s" font-size="56.0" x="-4.59" y="0" transform="translate(309.20 2659.60) scale(0.9889 1)">D</text>
<text class="s" font-size="55.0" x="-2.77" y="0" transform="translate(640.60 2666.80) scale(1.0368 1)">2021</text>
<text class="s" font-size="57.0" x="-4.68" y="0" transform="translate(120.80 3206.40) rotate(-90.00) scale(1.0154 1)">N Harvest index (%)</text>
<rect x="1315.40" y="2873.60" width="79.20" height="468.75" fill="#800000" stroke="#000" stroke-width="3.00"/>
<rect x="1446.97" y="2893.80" width="79.20" height="448.55" fill="#b7c100" stroke="#000" stroke-width="3.00"/>
<rect x="1578.54" y="2942.60" width="79.20" height="399.75" fill="#5c0000" stroke="#000" stroke-width="3.00"/>
<rect x="1710.11" y="2834.70" width="79.20" height="507.65" fill="#ff8200" stroke="#000" stroke-width="3.00"/>
<rect x="1841.68" y="2874.40" width="79.20" height="467.95" fill="#804000" stroke="#000" stroke-width="3.00"/>
<rect x="1973.25" y="2890.80" width="79.20" height="451.55" fill="#808000" stroke="#000" stroke-width="3.00"/>
<path d="M1341.20 2866.25H1368.80M1341.20 2882.45H1368.80" fill="none" stroke="#000" stroke-width="2.90"/>
<path d="M1355.00 2866.25V2882.45" fill="none" stroke="#000" stroke-width="4.00"/>
<path d="M1472.77 2890.85H1500.37M1472.77 2897.05H1500.37" fill="none" stroke="#000" stroke-width="2.90"/>
<path d="M1486.57 2890.85V2897.05" fill="none" stroke="#000" stroke-width="4.00"/>
<path d="M1604.34 2936.15H1631.94M1604.34 2949.25H1631.94" fill="none" stroke="#000" stroke-width="2.90"/>
<path d="M1618.14 2936.15V2949.25" fill="none" stroke="#000" stroke-width="4.00"/>
<path d="M1735.91 2829.15H1763.51M1735.91 2841.05H1763.51" fill="none" stroke="#000" stroke-width="2.90"/>
<path d="M1749.71 2829.15V2841.05" fill="none" stroke="#000" stroke-width="4.00"/>
<path d="M1867.48 2867.95H1895.08M1867.48 2882.45H1895.08" fill="none" stroke="#000" stroke-width="2.90"/>
<path d="M1881.28 2867.95V2882.45" fill="none" stroke="#000" stroke-width="4.00"/>
<path d="M1999.05 2882.25H2026.65M1999.05 2900.55H2026.65" fill="none" stroke="#000" stroke-width="2.90"/>
<path d="M2012.85 2882.25V2900.55" fill="none" stroke="#000" stroke-width="4.00"/>
<line x1="1223.10" y1="3115.44" x2="1249.60" y2="3115.44" stroke="#000" stroke-width="6.60"/>
<line x1="1223.10" y1="2888.54" x2="1249.60" y2="2888.54" stroke="#000" stroke-width="6.60"/>
<line x1="1223.10" y1="2661.64" x2="1249.60" y2="2661.64" stroke="#000" stroke-width="6.60"/>
<line x1="1355.00" y1="3342.35" x2="1355.00" y2="3370.35" stroke="#000" stroke-width="6.10"/>
<line x1="1486.57" y1="3342.35" x2="1486.57" y2="3370.35" stroke="#000" stroke-width="6.10"/>
<line x1="1618.14" y1="3342.35" x2="1618.14" y2="3370.35" stroke="#000" stroke-width="6.10"/>
<line x1="1749.71" y1="3342.35" x2="1749.71" y2="3370.35" stroke="#000" stroke-width="6.10"/>
<line x1="1881.28" y1="3342.35" x2="1881.28" y2="3370.35" stroke="#000" stroke-width="6.10"/>
<line x1="2012.85" y1="3342.35" x2="2012.85" y2="3370.35" stroke="#000" stroke-width="6.10"/>
<rect x="1220.17" y="2583.05" width="927.79" height="5.90" fill="#000"/>
<rect x="1220.17" y="3338.90" width="927.79" height="6.90" fill="#000"/>
<rect x="1220.17" y="2583.05" width="5.85" height="762.75" fill="#000"/>
<rect x="2142.11" y="2583.05" width="5.85" height="762.75" fill="#000"/>
<text class="b" font-size="62.0" x="-16.38" y="0" transform="translate(1355.70 2844.60)">b</text>
<text class="b" font-size="62.0" x="-14.05" y="0" transform="translate(1486.20 2867.00)">c</text>
<text class="b" font-size="62.0" x="-18.15" y="0" transform="translate(1617.20 2914.50)">d</text>
<text class="b" font-size="62.0" x="-16.03" y="0" transform="translate(1748.40 2810.50)">a</text>
<text class="b" font-size="62.0" x="-16.38" y="0" transform="translate(1878.70 2853.30)">b</text>
<text class="b" font-size="62.0" x="-14.05" y="0" transform="translate(2013.90 2861.90)">c</text>
<text class="s" font-size="56.0" x="-4.59" y="0" transform="translate(1262.80 2663.60) scale(1.0741 1)">H</text>
<text class="s" font-size="55.0" x="-2.77" y="0" transform="translate(1597.00 2668.80) scale(1.0341 1)">2022</text>
<text class="t" font-size="57.0" x="-163.18" y="0" transform="translate(407.00 3430.00) rotate(-25.50) scale(0.9708 1)">CF-LN</text>
<text class="t" font-size="57.0" x="-178.96" y="0" transform="translate(538.57 3430.00) rotate(-25.50) scale(1.0138 1)">CF-MN</text>
<text class="t" font-size="57.0" x="-172.64" y="0" transform="translate(670.14 3430.00) rotate(-25.50) scale(0.9985 1)">CF-HN</text>
<text class="t" font-size="57.0" x="-267.66" y="0" transform="translate(801.71 3430.00) rotate(-25.50) scale(1.0540 1)">AWMD-LN</text>
<text class="t" font-size="57.0" x="-283.44" y="0" transform="translate(933.28 3430.00) rotate(-25.50) scale(1.0782 1)">AWMD-MN</text>
<text class="t" font-size="57.0" x="-277.12" y="0" transform="translate(1064.85 3430.00) rotate(-25.50) scale(1.0631 1)">AWMD-HN</text>
<text class="t" font-size="57.0" x="-163.18" y="0" transform="translate(1364.30 3430.60) rotate(-25.50) scale(0.9708 1)">CF-LN</text>
<text class="t" font-size="57.0" x="-178.96" y="0" transform="translate(1495.87 3430.60) rotate(-25.50) scale(1.0138 1)">CF-MN</text>
<text class="t" font-size="57.0" x="-172.64" y="0" transform="translate(1627.44 3430.60) rotate(-25.50) scale(0.9985 1)">CF-HN</text>
<text class="t" font-size="57.0" x="-267.66" y="0" transform="translate(1759.01 3430.60) rotate(-25.50) scale(1.0540 1)">AWMD-LN</text>
<text class="t" font-size="57.0" x="-283.44" y="0" transform="translate(1890.58 3430.60) rotate(-25.50) scale(1.0782 1)">AWMD-MN</text>
<text class="t" font-size="57.0" x="-277.12" y="0" transform="translate(2022.15 3430.60) rotate(-25.50) scale(1.0631 1)">AWMD-HN</text>
</svg>
</body></html>
